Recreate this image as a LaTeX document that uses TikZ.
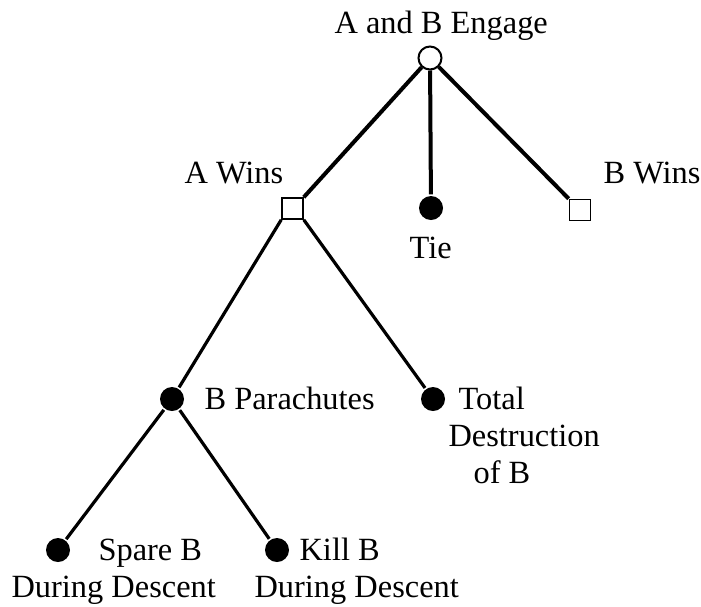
\documentclass[tikz,border=0pt]{standalone}
\usepackage{fontspec}
\setmainfont{Liberation Serif}
\usetikzlibrary{positioning}

\begin{document}
\begin{tikzpicture}[x=0.5pt, y=-0.5pt, line width=1.6pt, font=\fontsize{16.2}{18.5}\selectfont]
	\tikzstyle{start}=[circle, draw, fill=white, line width=1pt, minimum size=11.5pt, inner sep=0pt]
	\tikzstyle{outcome}=[rectangle, draw, fill=white, line width=0.8pt, minimum size=10.5pt, inner sep=0pt]
	\tikzstyle{event}=[circle, fill=black, minimum size=12pt, inner sep=0pt]
	\tikzstyle{txt}=[inner sep=0pt, anchor=base west, align=left]
	\useasboundingbox (0,0) rectangle (701,606);

	\node[start] (engage) at (430,58) {};
	\node[outcome] (awins) at (292.5,208.5) {};
	\node[event] (tie) at (431,208) {};
	\node[outcome] (bwins) at (580,210) {};
	\node[event] (para) at (172,399) {};
	\node[event] (total) at (433,399) {};
	\node[event] (spare) at (58,550) {};
	\node[event] (kill) at (277,550) {};

	% labels (multi-line ones sit on the baseline of their last line)
	\node[txt] (engage-l) at (333,33) {A and B Engage};
	\node[txt] (awins-l) at (183,183) {A Wins};
	\node[txt] (bwins-l) at (602,183) {B Wins};
	\node[txt] (tie-l) at (408,258) {Tie};
	\node[txt] (para-l) at (203,409) {B Parachutes};
	\node[txt] (total-l) at (447,483) {\hspace*{5pt}Total\\Destruction\\\hspace*{12.5pt}of B};
	\node[txt] (spare-l) at (10,597) {\hspace*{43.5pt}Spare B\\During Descent};
	\node[txt] (kill-l) at (253,597) {\hspace*{22.5pt}Kill B\\During Descent};

	\draw[line width=2pt] (engage) -- (awins.north east);
	\draw[line width=2pt] (engage) -- (tie);
	\draw[line width=2pt] (engage) -- (bwins.north west);
	\draw (awins.south west) -- (para);
	\draw (awins.south east) -- (total);
	\draw (para) -- (spare);
	\draw (para) -- (kill);
\end{tikzpicture}
\end{document}
